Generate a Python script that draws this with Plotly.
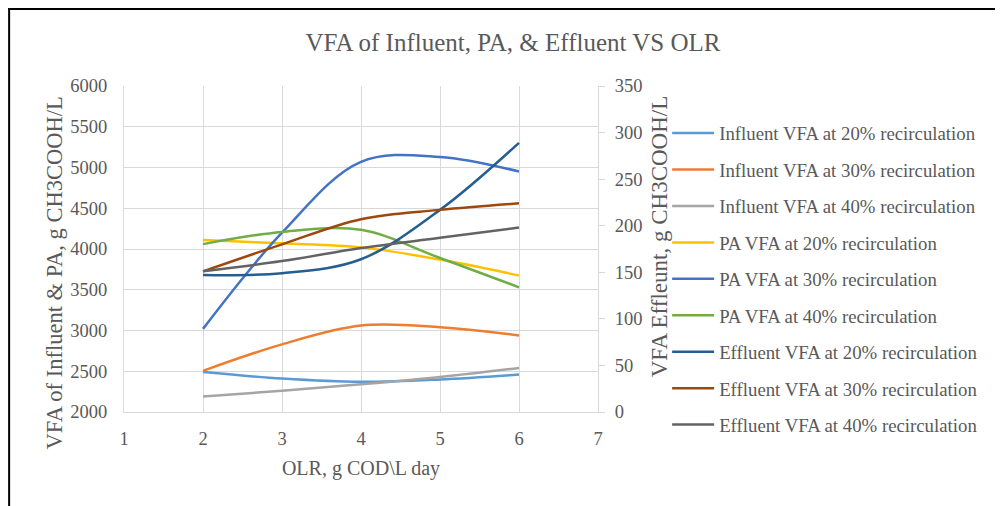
import plotly.graph_objects as go

olr = [2, 3, 4, 5, 6]

# left axis (g CH3COOH/L)
influent_20 = [2490, 2410, 2370, 2400, 2460]
influent_30 = [2505, 2830, 3060, 3040, 2940]
influent_40 = [2190, 2260, 2340, 2430, 2540]
pa_20 = [4110, 4070, 4020, 3870, 3675]
pa_30 = [3020, 4200, 5070, 5130, 4950]
pa_40 = [4060, 4210, 4235, 3890, 3530]

# right axis (effluent)
effluent_20 = [147, 149, 164, 217, 289]
effluent_30 = [151, 180, 207, 217, 224]
effluent_40 = [151, 162, 176, 187, 198]

series = [
    ("Influent VFA at 20% recirculation", influent_20, "#5B9BD5", "y"),
    ("Influent VFA at 30% recirculation", influent_30, "#ED7D31", "y"),
    ("Influent VFA at 40% recirculation", influent_40, "#A5A5A5", "y"),
    ("PA VFA at 20% recirculation", pa_20, "#FFC000", "y"),
    ("PA VFA at 30% recirculation", pa_30, "#4472C4", "y"),
    ("PA VFA at 40% recirculation", pa_40, "#70AD47", "y"),
    ("Effluent VFA at 20% recirculation", effluent_20, "#255E91", "y2"),
    ("Effluent VFA at 30% recirculation", effluent_30, "#9E480E", "y2"),
    ("Effluent VFA at 40% recirculation", effluent_40, "#636363", "y2"),
]

FONT = "Liberation Serif"
GREY = "#595959"
GRID = "#D9D9D9"

# page body adds an 8px offset, so the figure is a bit smaller than the window
W, H = 995, 498
ML, MT = 116, 78
PW, PH = 474.5, 326.3


def px(fx):
    return (fx - ML) / PW


def py(fy):
    return (MT + PH - fy) / PH


fig = go.Figure()
for i, (name, vals, col, ax) in enumerate(series):
    fig.add_trace(go.Scatter(
        x=olr, y=vals, name=name, yaxis=ax, mode="lines",
        line=dict(color=col, width=2.5, shape="spline", smoothing=1),
        legendgroup=str(i),
    ))

fig.update_layout(
    width=W, height=H,
    margin=dict(l=ML, r=W - ML - PW, t=MT, b=H - MT - PH),
    paper_bgcolor="white", plot_bgcolor="white",
    font=dict(family=FONT, color=GREY, size=18.5),
    title=dict(text="VFA of Influent, PA, & Effluent VS OLR", x=505 / W, xanchor="center",
               y=1 - 34 / H, yanchor="middle", font=dict(size=25, color=GREY)),
    xaxis=dict(range=[1, 7], dtick=1, showgrid=True, gridcolor=GRID, gridwidth=1,
               showline=True, linecolor=GRID, zeroline=False, ticks="",
               ticklabelstandoff=10,
               title=dict(text="OLR, g COD\\L day", font=dict(size=20), standoff=12)),
    yaxis=dict(range=[2000, 6000], dtick=500, showgrid=True, gridcolor=GRID,
               showline=True, linecolor=GRID, zeroline=False, ticks="",
               ticklabelstandoff=12),
    yaxis2=dict(range=[0, 350], dtick=50, overlaying="y", side="right", showgrid=False,
                showline=True, linecolor=GRID, zeroline=False, ticks="outside",
                ticklen=6, tickcolor=GRID, ticklabelstandoff=6),
    legend=dict(x=px(659.7), y=py(106.4), xanchor="left", yanchor="top",
                font=dict(size=18.8), tracegroupgap=9, itemwidth=42, maxheight=480,
                bgcolor="rgba(0,0,0,0)"),
    showlegend=True,
)

fig.add_annotation(text="VFA of Influent & PA, g CH3COOH/L", textangle=-90,
                   xref="paper", yref="paper", x=px(46), y=py(265.5),
                   xanchor="center", yanchor="middle", showarrow=False,
                   font=dict(size=22.5, color=GREY))
fig.add_annotation(text="VFA Effleunt, g CH3COOH/L", textangle=-90,
                   xref="paper", yref="paper", x=px(652), y=py(228),
                   xanchor="center", yanchor="middle", showarrow=False,
                   font=dict(size=23, color=GREY))

# outer chart frame (only its top and left edges show in the crop)
fig.add_shape(type="line", xref="paper", yref="paper", x0=px(0), x1=px(W + 5),
              y0=py(1), y1=py(1), line=dict(color="black", width=2))
fig.add_shape(type="line", xref="paper", yref="paper", x0=px(1), x1=px(1),
              y0=py(0), y1=py(H + 5), line=dict(color="black", width=2))

fig.write_html("out.html")
